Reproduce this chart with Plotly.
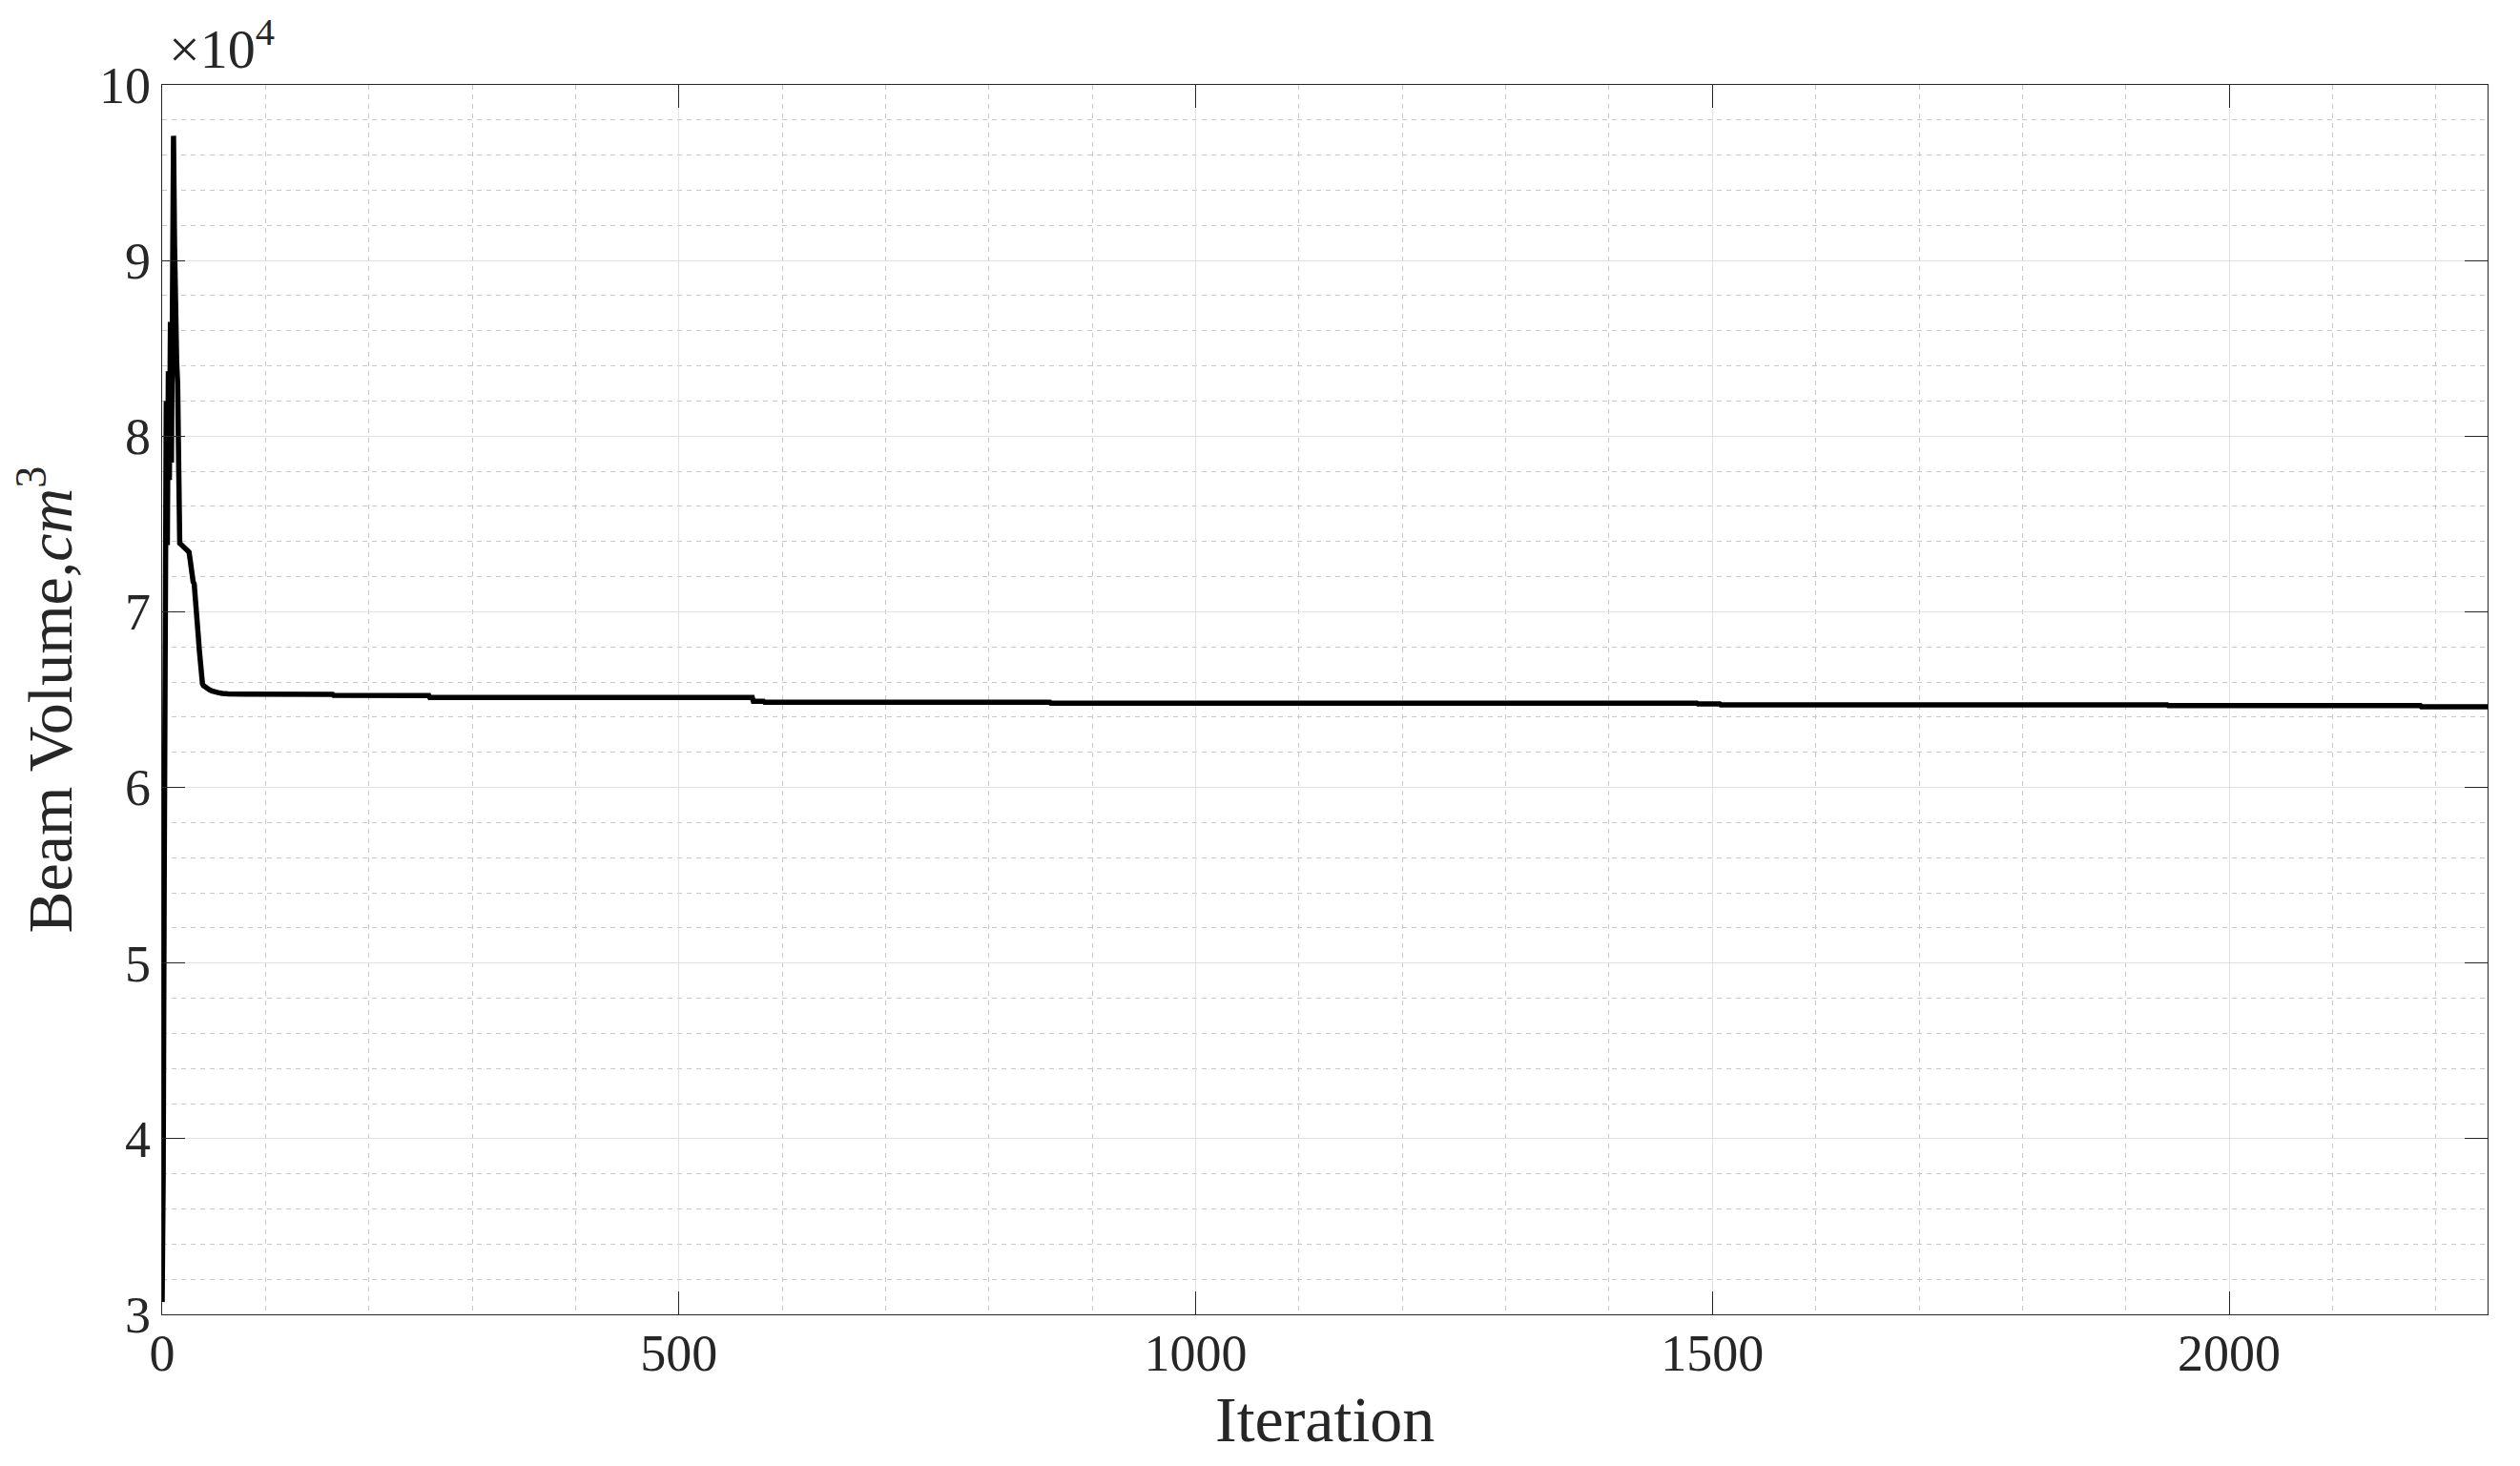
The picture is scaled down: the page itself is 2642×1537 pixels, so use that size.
import plotly.graph_objects as go

# ---- data (Beam Volume in cm^3) ----
early_iterations = list(range(0, 45)) + [46, 48, 50, 54, 58, 64]
early_volumes = [
    30700, 37700, 54800, 67500, 82000, 73800, 83700, 77500, 86500, 78500,
    95100, 97100, 90900, 85700, 84300, 83000, 74000, 73900, 73850, 73800,
    73750, 73700, 73650, 73600, 73550, 73500, 73400, 73000, 72400, 71900,
    71700, 71600, 71000, 70300, 69500, 68600, 67800, 67000, 66200, 65900,
    65800, 65750, 65700, 65650, 65600, 65550, 65500, 65450, 65400, 65350,
    65320,
]
late_iterations = [165, 166, 258, 259, 571, 572, 582, 583, 859, 860,
                   1485, 1486, 1507, 1508, 1940, 1941, 2185, 2186, 2250]
late_volumes = [65300, 65240, 65230, 65120, 65120, 64900, 64900, 64850, 64850, 64790,
                64790, 64760, 64760, 64700, 64700, 64660, 64660, 64590, 64590]

x_tick_values = [0, 500, 1000, 1500, 2000]
x_tick_labels = ["0", "500", "1000", "1500", "2000"]
y_tick_values = [30000, 40000, 50000, 60000, 70000, 80000, 90000, 100000]
y_tick_labels = ["3", "4", "5", "6", "7", "8", "9", "10"]

iterations = early_iterations + late_iterations
volumes = early_volumes + late_volumes

FONT = "Liberation Serif"
AX = "#262626"

fig = go.Figure()
fig.add_trace(go.Scatter(
    x=iterations, y=volumes, mode="lines",
    line=dict(color="black", width=5.5),
    hoverinfo="skip",
))

common_axis = dict(
    showline=True, linecolor=AX, linewidth=1.3, mirror="ticks",
    ticks="inside", ticklen=24, tickwidth=1.3, tickcolor=AX,
    showgrid=True, gridcolor="#e2e2e2", gridwidth=1,
    zeroline=False, automargin=False,
    tickfont=dict(family=FONT, size=54, color=AX),
)

fig.update_xaxes(
    range=[0, 2250], tickmode="array", tickvals=x_tick_values, ticktext=x_tick_labels,
    ticklabelstandoff=-7,
    minor=dict(dtick=100, tick0=0, showgrid=True, gridcolor="#c8c8c8",
               griddash="5px,5px", gridwidth=1, ticks=""),
    **common_axis,
)
fig.update_yaxes(
    range=[30000, 100000], tickmode="array", tickvals=y_tick_values, ticktext=y_tick_labels,
    minor=dict(dtick=2000, tick0=30000, showgrid=True, gridcolor="#c8c8c8",
               griddash="5px,5px", gridwidth=1, ticks=""),
    **common_axis,
)

# page body adds an 8px offset, so the figure is sized/margined to compensate
fig.update_layout(
    width=2634, height=1529,
    margin=dict(l=162, r=34, t=81, b=159),
    plot_bgcolor="white", paper_bgcolor="white",
    showlegend=False,
    font=dict(family=FONT, color=AX),
    annotations=[
        dict(text="Iteration", xref="paper", yref="paper", x=0.5, y=-0.085,
             xanchor="center", yanchor="middle", showarrow=False,
             font=dict(family=FONT, size=68, color=AX)),
        dict(text="Beam Volume,<i>cm</i><sup>3</sup>", xref="paper", yref="paper",
             x=-0.050, y=0.5, xanchor="center", yanchor="middle", textangle=-90,
             showarrow=False, font=dict(family=FONT, size=66, color=AX)),
        dict(text="\u00d710<sup>4</sup>", xref="paper", yref="paper",
             x=0.002, y=1.002, xanchor="left", yanchor="bottom", showarrow=False,
             font=dict(family=FONT, size=58, color=AX)),
    ],
)

fig.write_html("out.html")
